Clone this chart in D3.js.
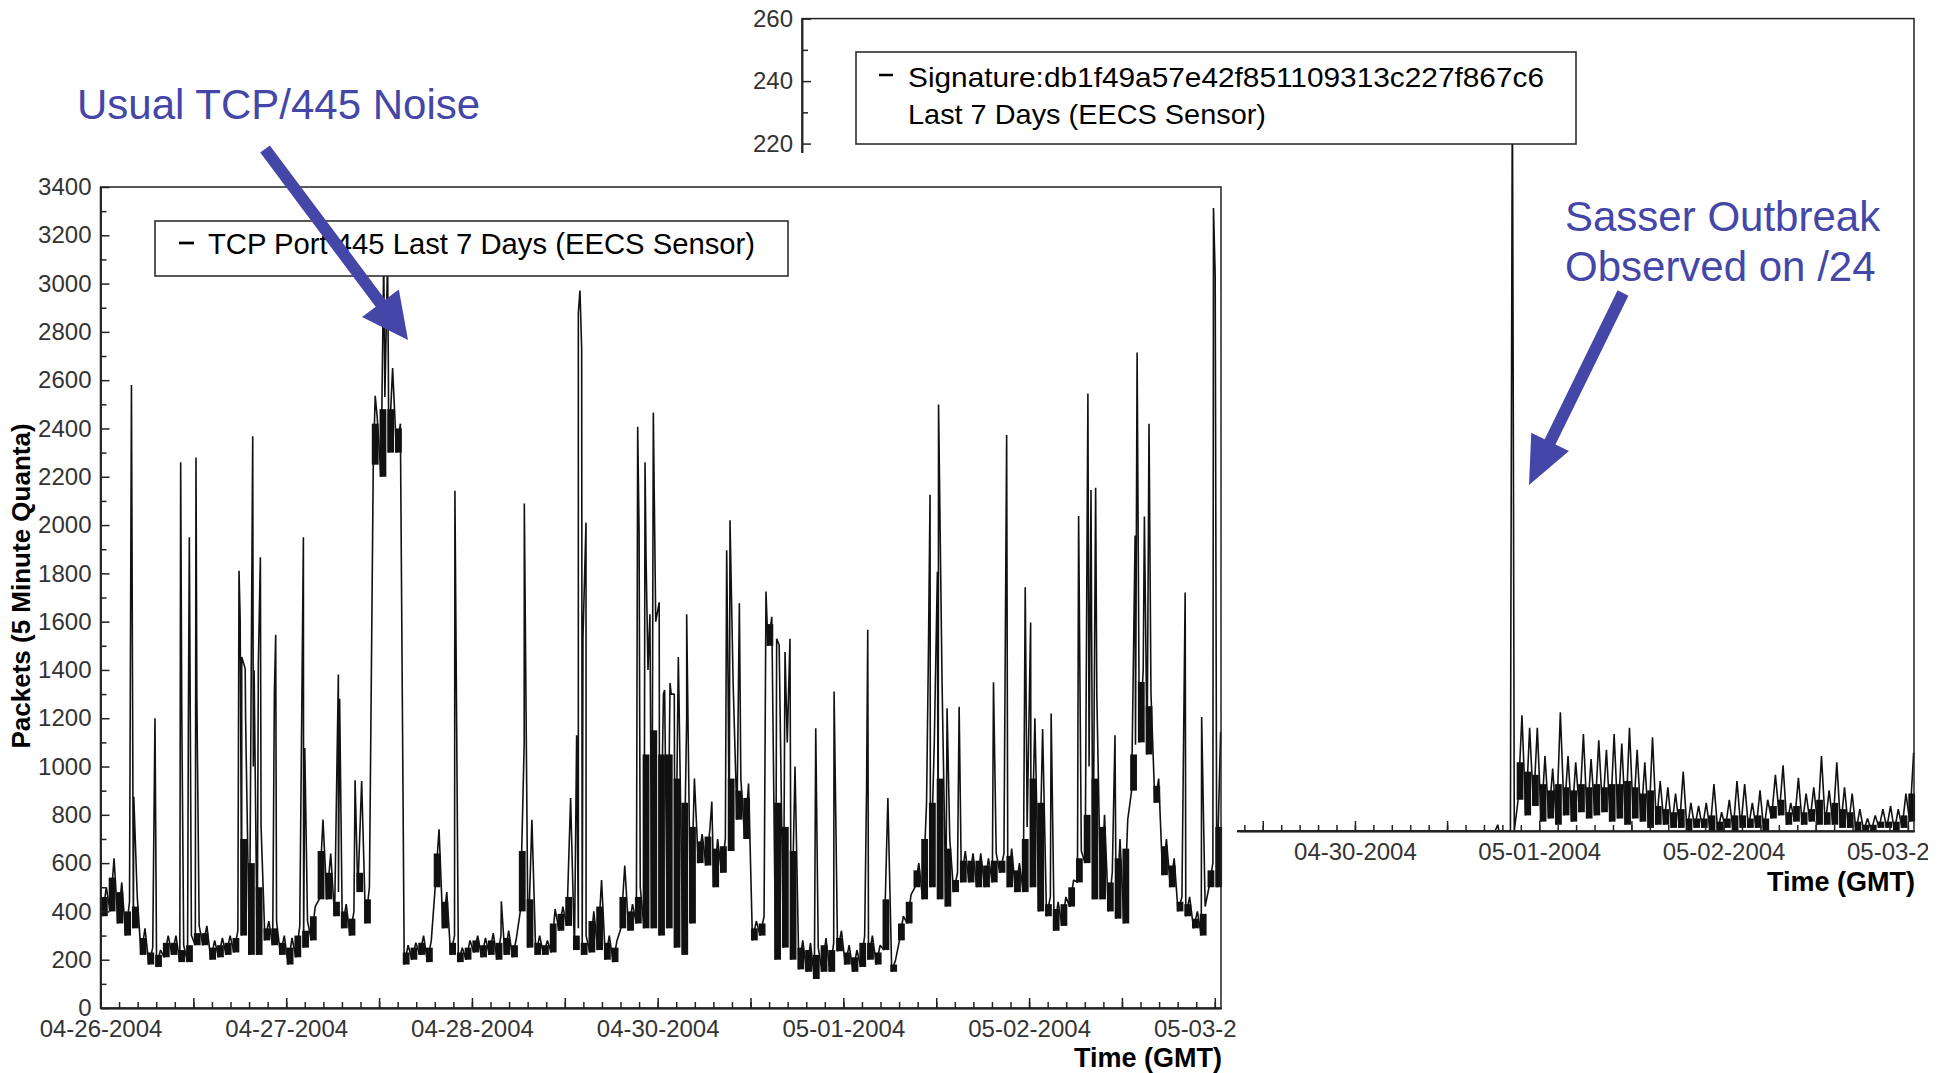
<!DOCTYPE html>
<html>
<head>
<meta charset="utf-8">
<script src="https://cdn.jsdelivr.net/npm/d3@7"></script>
<style>
  body { margin: 0; background: #fff; }
  text { font-family: "Liberation Sans", Arial, sans-serif; }
</style>
</head>
<body>
<svg width="1946" height="1073"></svg>
<script>
// tick labels along the time axis (one per day, as printed on the original)
const dayLabels = ["04-26-2004", "04-27-2004", "04-28-2004", "04-30-2004", "05-01-2004", "05-02-2004", "05-03-2004"];

// TCP/445 packets, hour 0..144: bottom of the noise, top of the dense band, hourly peak
const tcpLo = [
  380, 400, 350, 300, 330, 220, 180, 170, 210, 220, 190, 190,
  260, 260, 200, 210, 220, 230, 300, 220, 220, 280, 260, 220,
  180, 210, 250, 280, 450, 450, 380, 330, 300, 480, 350, 2250,
  2200, 2300, 2300, 180, 200, 220, 190, 500, 330, 220, 190, 200,
  230, 210, 220, 200, 220, 210, 400, 250, 220, 220, 230, 320,
  340, 240, 220, 230, 240, 200, 190, 330, 320, 350, 330, 330,
  300, 330, 250, 220, 350, 600, 590, 500, 560, 650, 780, 700,
  280, 300, 1500, 200, 250, 200, 160, 150, 120, 150, 150, 235,
  180, 150, 170, 200, 180, 240, 150, 280, 350, 500, 450, 500,
  450, 420, 480, 520, 520, 500, 500, 520, 560, 500, 480, 480,
  500, 400, 380, 320, 340, 420, 520, 600, 450, 450, 400, 370,
  350, 900, 1100, 1050, 850, 550, 500, 400, 380, 330, 300, 500,
  500
];
const tcpBand = [
  460, 540, 480, 400, 420, 290, 230, 220, 270, 270, 240, 260,
  310, 310, 250, 260, 270, 290, 700, 600, 500, 330, 330, 270,
  250, 300, 320, 380, 650, 560, 440, 400, 370, 560, 450, 2420,
  2480, 2480, 2400, 230, 250, 270, 250, 640, 440, 270, 230, 250,
  280, 260, 280, 270, 290, 260, 650, 450, 270, 260, 350, 390,
  460, 300, 270, 360, 420, 270, 250, 460, 400, 460, 1050, 1150,
  1050, 1050, 950, 850, 750, 690, 710, 660, 670, 950, 900, 870,
  330, 350, 1590, 850, 750, 650, 250, 240, 220, 260, 240, 290,
  230, 210, 270, 270, 230, 450, 180, 350, 440, 570, 700, 850,
  950, 660, 530, 610, 610, 610, 590, 610, 610, 630, 570, 700,
  950, 850, 430, 410, 430, 500, 620, 800, 950, 750, 520, 620,
  660, 1050, 1350, 1250, 920, 670, 590, 440, 430, 370, 390, 570,
  750
];
const tcpPeak = [
  500, 620, 520, 440, 460, 330, 250, 240, 300, 300, 260, 300,
  340, 340, 280, 290, 300, 320, 1200, 1000, 750, 360, 360, 300,
  290, 340, 360, 420, 780, 640, 480, 430, 400, 940, 500, 2450,
  2530, 2650, 2420, 260, 270, 300, 280, 740, 480, 300, 250, 280,
  300, 290, 310, 300, 320, 290, 1090, 780, 300, 280, 410, 420,
  870, 330, 300, 400, 530, 300, 280, 590, 430, 500, 1400, 1600,
  1300, 1300, 1300, 1200, 950, 720, 740, 700, 700, 1350, 950, 930,
  360, 380, 1620, 1400, 1100, 1000, 280, 270, 250, 290, 270, 320,
  260, 240, 300, 300, 260, 870, 200, 380, 470, 600, 850, 1100,
  1355, 700, 560, 650, 640, 640, 620, 640, 640, 660, 600, 750,
  1200, 1155, 460, 440, 460, 530, 650, 1000, 1300, 800, 560, 700,
  780, 1090, 1400, 1300, 950, 700, 620, 460, 460, 400, 420, 600,
  1144
];
// single-sample bursts [hour, packets]
const tcpSpikes = [
  [4.0, 2580], [4.3, 875], [7.04, 1200], [10.36, 2260], [10.5, 1238], [11.35, 1140], [11.48, 1950],
  [12.34, 2280], [12.45, 1293], [17.9, 1811], [18.05, 1611], [18.25, 1454], [18.7, 1405],
  [19.67, 2368], [19.85, 1399], [20.4, 1428], [20.66, 1867], [22.47, 1307], [22.64, 1546],
  [26.22, 1949], [26.4, 1077], [30.74, 1381], [30.9, 1281], [32.9, 943], [35.5, 2535],
  [36.6, 3100], [37.1, 3100], [37.2, 2653], [45.8, 2142], [51.8, 442], [54.77, 2089],
  [61.53, 1130], [61.75, 2879], [61.96, 2971], [62.18, 2731], [62.35, 1533], [62.74, 2010],
  [69.42, 2407], [69.6, 1965], [70.37, 2260], [70.5, 1867], [71.0, 1631], [71.44, 2466],
  [72.2, 1680], [72.9, 1317], [73.6, 1346], [74.15, 1300], [74.67, 1454], [75.75, 1631],
  [79.0, 855], [80.92, 1896], [81.1, 1346], [81.35, 2020], [82.56, 1676], [86.0, 1725],
  [87.38, 1529], [87.7, 1503], [88.46, 1474], [89.1, 1529], [92.43, 1159], [94.8, 1311],
  [99.0, 914], [99.15, 1566], [107.0, 1499], [107.2, 2125], [108.15, 1807], [108.3, 2499],
  [109.4, 1241], [110.96, 1248], [115.4, 1349], [117.1, 2373], [119.5, 1742], [120.2, 1596],
  [122.85, 1220], [126.4, 2037], [127.6, 2545], [128.0, 2145], [128.6, 2155], [131.1, 1129],
  [133.7, 1957], [133.96, 2715], [134.9, 2035], [135.5, 2420], [140.17, 1721], [142.3, 1205],
  [143.83, 3313], [144.05, 3033]
];

// Sasser signature hits, hour 0..144: bottom, dense band top, hourly peak
const sigLo = [
  0, 0, 0, 0, 0, 0, 0, 0, 0, 0, 0, 0, 0, 0, 0, 0, 0, 0, 0, 0, 0, 0, 0,
  0, 0, 0, 0, 0, 0, 0, 0, 0, 0, 0, 0, 0, 0, 0, 0, 0, 0, 0, 0, 0, 0, 0,
  0, 0, 0, 0, 0, 0, 0, 0, 0, 0, 0, 0, 0, 0, 0, 0, 0, 0, 0, 0, 0, 0, 0,
  0, 0, 0, 0, 0, 0, 0, 0, 0, 0, 0, 0, 0, 0, 0, 0, 0, 0, 0, 0, 0, 0, 0,
  0, 10, 5, 8, 3, 4, 2, 5, 3, 6, 4, 5, 6, 3, 4, 2, 4, 3, 1, 2, 2, 1, 1,
  0, 1, 1, 0, 0, 1, 0, 1, 1, 1, 0, 4, 5, 2, 3, 2, 3, 2, 2, 2, 1, 1, 0,
  0, 0, 1, 1, 0, 1, 3
];
const sigBand = [
  0, 0, 0, 0, 0, 0, 0, 0, 0, 0, 0, 0, 0, 0, 0, 0, 0, 0, 0, 0, 0, 0, 0,
  0, 0, 0, 0, 0, 0, 0, 0, 0, 0, 0, 0, 0, 0, 0, 0, 0, 0, 0, 0, 0, 0, 0,
  0, 0, 0, 0, 0, 0, 0, 0, 0, 0, 0, 0, 0, 0, 0, 0, 0, 0, 0, 0, 0, 0, 0,
  0, 0, 0, 0, 0, 0, 0, 0, 0, 0, 0, 0, 0, 0, 0, 0, 0, 0, 0, 0, 0, 0, 0,
  0, 22, 19, 18, 15, 13, 15, 14, 13, 15, 14, 15, 14, 15, 15, 16, 14, 12, 13, 8, 7, 6, 7,
  4, 4, 4, 5, 3, 4, 5, 5, 4, 5, 4, 8, 10, 6, 8, 6, 7, 10, 6, 9, 7, 6, 3,
  2, 2, 3, 3, 3, 5, 12
];
const sigPeak = [
  0, 0, 0, 0, 0, 0, 0, 0, 0, 0, 0, 0, 0, 0, 0, 0, 0, 0, 0, 0, 0, 0, 0,
  0, 0, 0, 0, 0, 0, 0, 0, 0, 0, 0, 0, 0, 0, 0, 0, 0, 0, 0, 0, 0, 0, 0,
  0, 0, 0, 0, 0, 0, 0, 0, 0, 0, 0, 0, 0, 0, 0, 0, 0, 0, 0, 0, 0, 0, 0,
  0, 0, 0, 0, 0, 0, 0, 0, 0, 0, 0, 0, 0, 0, 0, 0, 0, 0, 0, 0, 0, 0, 0,
  0, 37, 33, 33, 24, 20, 38, 24, 22, 31, 23, 29, 26, 31, 28, 33, 26, 22, 30, 16, 14, 12, 19,
  9, 8, 9, 15, 6, 10, 16, 15, 9, 13, 10, 18, 21, 9, 17, 12, 14, 24, 13, 22, 14, 12, 7,
  4, 5, 7, 8, 7, 12, 25
];
const sigSpikes = [[90.6, 2], [92.3, 62], [92.5, 240], [92.62, 135]];

const svg = d3.select("svg");
const ink = "#222";

function buildSeries(lo, peak, spikes) {
  let pts = [];
  lo.forEach(function (v, i) {
    pts.push([i + 0.25, v]);
    pts.push([i + 0.75, peak[i]]);
  });
  spikes.forEach(function (s) { pts.push(s) });
  pts.sort(function (a, b) { return a[0] - b[0] });
  return pts;
}

function styleAxis(g) {
  g.attr("font-size", 24).attr("font-family", '"Liberation Sans", Arial, sans-serif');
  g.select(".domain").attr("stroke", ink).attr("stroke-width", 1.5);
  g.selectAll(".tick line").attr("stroke", ink).attr("stroke-width", 1.5);
  g.selectAll(".tick text").attr("fill", "#333");
}

function drawPanel(g, x, y, yStep, lo, band, peak, spikes, clipId, yLabelMin) {
  let xa = x.range()[0], xb = x.range()[1];
  let yb = y.range()[0], ya = y.range()[1];
  let ymax = y.domain()[1];

  // dense part of the 5 minute samples, one block per hour
  g.append("g").selectAll("rect").data(lo).enter().append("rect")
    .attr("x", function (d, i) { return x(i + 0.06) })
    .attr("width", function (d, i) { return x(i + 0.94) - x(i + 0.06) })
    .attr("y", function (d, i) { return y(band[i]) })
    .attr("height", function (d, i) { return Math.max(0, y(d) - y(band[i])) })
    .attr("fill", "#111");

  g.append("path").datum(buildSeries(lo, peak, spikes))
    .attr("fill", "none")
    .attr("stroke", "#111")
    .attr("stroke-width", 1.6)
    .attr("stroke-linejoin", "bevel")
    .attr("d", d3.line().x(function (d) { return x(d[0]) }).y(function (d) { return y(d[1]) }));

  g.append("rect")
    .attr("x", xa).attr("y", ya).attr("width", xb - xa).attr("height", yb - ya)
    .attr("fill", "none").attr("stroke", ink).attr("stroke-width", 1.5);

  g.append("g").attr("transform", "translate(" + xa + ",0)")
    .call(d3.axisLeft(y).tickValues(d3.range(yStep / 2, ymax, yStep)).tickSize(-6).tickSizeOuter(0).tickFormat(""))
    .call(styleAxis);
  g.append("g").attr("transform", "translate(" + xa + ",0)")
    .call(d3.axisLeft(y).tickValues(d3.range(yLabelMin, ymax + 1, yStep)).tickSize(-9).tickSizeOuter(0)
      .tickPadding(9).tickFormat(d3.format("d")))
    .call(styleAxis);

  g.append("g").attr("transform", "translate(0," + yb + ")")
    .call(d3.axisBottom(x).tickValues(d3.range(0, 144.9, 2.4)).tickSize(-6).tickSizeOuter(0).tickFormat(""))
    .call(styleAxis);
  g.append("g").attr("transform", "translate(0," + yb + ")")
    .call(d3.axisBottom(x).tickValues(d3.range(0, 144.9, 12)).tickSize(-10).tickSizeOuter(0).tickFormat(""))
    .call(styleAxis);
  g.append("g").attr("transform", "translate(0," + yb + ")")
    .attr("clip-path", "url(#" + clipId + ")")
    .call(d3.axisBottom(x).tickValues(d3.range(0, 144.9, 24)).tickSize(0).tickSizeOuter(0).tickPadding(12)
      .tickFormat(function (d, i) { return dayLabels[i] }))
    .call(styleAxis);
}

let defs = svg.append("defs");
defs.append("clipPath").attr("id", "clipR").append("rect")
  .attr("x", 1240).attr("y", -50).attr("width", 688).attr("height", 200);
defs.append("clipPath").attr("id", "clipL").append("rect")
  .attr("x", 0).attr("y", -50).attr("width", 1236).attr("height", 200);

// ---- right panel (signature), drawn first so the left one covers it
let xR = d3.scaleLinear().domain([0, 144.8]).range([802, 1914]);
let yR = d3.scaleLinear().domain([0, 260]).range([831, 18.6]);
let right = svg.append("g");
drawPanel(right, xR, yR, 20, sigLo, sigBand, sigPeak, sigSpikes, "clipR", 220);

right.append("rect").attr("x", 856).attr("y", 52).attr("width", 720).attr("height", 92)
  .attr("fill", "#fff").attr("stroke", ink).attr("stroke-width", 1.5);
right.append("line").attr("x1", 879).attr("x2", 893).attr("y1", 75).attr("y2", 75)
  .attr("stroke", "#000").attr("stroke-width", 2.5);
right.append("text").attr("x", 908).attr("y", 87).attr("font-size", 28)
  .attr("textLength", 636).attr("lengthAdjust", "spacingAndGlyphs")
  .text("Signature:db1f49a57e42f851109313c227f867c6");
right.append("text").attr("x", 908).attr("y", 124).attr("font-size", 28)
  .attr("textLength", 358).attr("lengthAdjust", "spacingAndGlyphs")
  .text("Last 7 Days (EECS Sensor)");
right.append("text").attr("x", 1915).attr("y", 891).attr("text-anchor", "end")
  .attr("font-size", 27).attr("font-weight", "bold").text("Time (GMT)");

// ---- left panel (TCP/445)
svg.append("rect").attr("x", 0).attr("y", 153).attr("width", 1237).attr("height", 920).attr("fill", "#fff");

let xL = d3.scaleLinear().domain([0, 144.8]).range([100.5, 1221]);
let yL = d3.scaleLinear().domain([0, 3400]).range([1008, 187]);
let left = svg.append("g");
drawPanel(left, xL, yL, 200, tcpLo, tcpBand, tcpPeak, tcpSpikes, "clipL", 0);

left.append("rect").attr("x", 155).attr("y", 221).attr("width", 633).attr("height", 55)
  .attr("fill", "#fff").attr("stroke", ink).attr("stroke-width", 1.5);
left.append("line").attr("x1", 179).attr("x2", 194).attr("y1", 243).attr("y2", 243)
  .attr("stroke", "#000").attr("stroke-width", 2.7);
left.append("text").attr("x", 208).attr("y", 254).attr("font-size", 29)
  .attr("textLength", 547).attr("lengthAdjust", "spacingAndGlyphs")
  .text("TCP Port 445 Last 7 Days (EECS Sensor)");
left.append("text").attr("x", 1222).attr("y", 1067).attr("text-anchor", "end")
  .attr("font-size", 27).attr("font-weight", "bold").text("Time (GMT)");
left.append("text").attr("transform", "translate(30,586) rotate(-90)").attr("text-anchor", "middle")
  .attr("font-size", 26).attr("font-weight", "bold").text("Packets (5 Minute Quanta)");

// ---- annotations
const blue = "#4447a8";
function arrow(sx, sy, tx, ty, headLen, headHalf) {
  let dx = tx - sx, dy = ty - sy, len = Math.sqrt(dx * dx + dy * dy);
  let ux = dx / len, uy = dy / len;
  let bx = tx - ux * headLen, by = ty - uy * headLen;
  svg.append("line").attr("x1", sx).attr("y1", sy).attr("x2", bx + ux * 2).attr("y2", by + uy * 2)
    .attr("stroke", blue).attr("stroke-width", 12);
  svg.append("polygon").attr("fill", blue)
    .attr("points", [[tx, ty], [bx - uy * headHalf, by + ux * headHalf], [bx + uy * headHalf, by - ux * headHalf]].join(" "));
}

svg.append("text").attr("x", 77).attr("y", 119).attr("font-size", 42).attr("fill", blue)
  .text("Usual TCP/445 Noise");
arrow(265, 149, 408, 340, 46, 23);

svg.append("text").attr("x", 1565).attr("y", 231).attr("font-size", 42).attr("fill", blue)
  .text("Sasser Outbreak");
svg.append("text").attr("x", 1565).attr("y", 281).attr("font-size", 42).attr("fill", blue)
  .text("Observed on /24");
arrow(1623, 293, 1529, 485, 48, 21);
</script>
</body>
</html>
